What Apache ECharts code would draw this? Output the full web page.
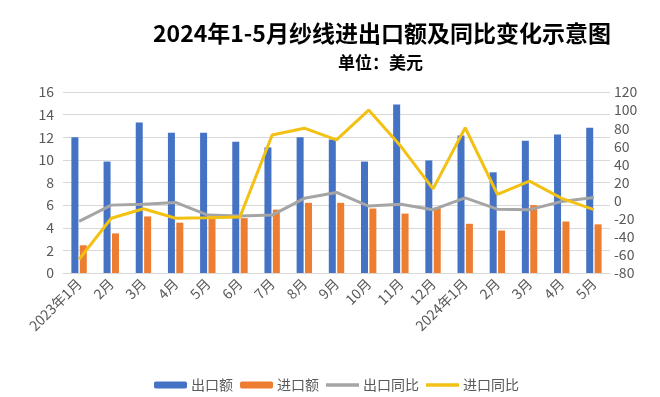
<!DOCTYPE html>
<html>
<head>
<meta charset="utf-8">
<script src="https://cdn.jsdelivr.net/npm/echarts@6/dist/echarts.min.js"></script>
<style>
  html, body { margin: 0; padding: 0; background: #fff; }
  #chart { width: 660px; height: 397px; }
</style>
</head>
<body>
<div id="chart"></div>
<script>
const months = ['2023年1月', '2月', '3月', '4月', '5月', '6月', '7月', '8月', '9月', '10月', '11月', '12月',
  '2024年1月', '2月', '3月', '4月', '5月']
const exportValue = [12.0, 9.85, 13.3, 12.4, 12.4, 11.6, 11.1, 12.0, 11.8, 9.85, 14.9, 9.95, 12.15, 8.9, 11.7, 12.25, 12.85]
const importValue = [2.45, 3.5, 5.0, 4.45, 4.85, 4.85, 5.6, 6.2, 6.2, 5.7, 5.25, 5.8, 4.35, 3.75, 6.0, 4.55, 4.3]
const exportYoy = [-23, -5, -4, -2, -16, -17, -16, 2.5, 9, -6, -4, -10, 3, -9.5, -10, -1, 3.5]
const importYoy = [-65, -19.5, -9, -19.5, -19, -18, 72.5, 80, 67, 100, 60, 13, 80.5, 7, 21.5, 2.5, -10]
const leftTicks = { min: 0, max: 16, interval: 2 }
const rightTicks = { min: -80, max: 120, interval: 20 }

const chart = echarts.init(document.getElementById('chart'))
const font = '"Noto Sans CJK SC", "Noto Sans", sans-serif'
const labelColor = '#595959'
// thin bar used as legend icon for the line series
const lineIcon = 'path://M0,0h33v3.5h-33z'

chart.setOption({
  backgroundColor: '#fff',
  textStyle: { fontFamily: font },
  title: [
    {
      text: '2024年1-5月纱线进出口额及同比变化示意图',
      left: 148,
      top: 17,
      textStyle: { fontSize: 23, fontWeight: 'bold', color: '#000', fontFamily: font }
    },
    {
      text: '单位：美元',
      left: 333,
      top: 49,
      textStyle: { fontSize: 17, fontWeight: 'bold', color: '#000', fontFamily: font }
    }
  ],
  legend: {
    top: 373,
    left: 149,
    itemWidth: 33,
    itemHeight: 7,
    itemGap: 7,
    textStyle: { fontSize: 14, color: labelColor, fontFamily: font, padding: [0, 0, 0, -1] },
    data: [
      { name: '出口额' },
      { name: '进口额' },
      { name: '出口同比', icon: lineIcon },
      { name: '进口同比', icon: lineIcon }
    ]
  },
  grid: { left: 63, right: 50, top: 92, bottom: 124, containLabel: false },
  xAxis: {
    type: 'category',
    data: months,
    axisLine: { lineStyle: { color: '#D9D9D9' } },
    axisTick: { show: false },
    axisLabel: { color: labelColor, fontSize: 14, rotate: 45, margin: 8, interval: 0, fontFamily: font }
  },
  yAxis: [
    {
      type: 'value',
      min: leftTicks.min,
      max: leftTicks.max,
      interval: leftTicks.interval,
      axisLine: { show: false },
      axisTick: { show: false },
      axisLabel: { color: labelColor, fontSize: 14, margin: 9, fontFamily: font },
      splitLine: { lineStyle: { color: '#D9D9D9' } }
    },
    {
      type: 'value',
      min: rightTicks.min,
      max: rightTicks.max,
      interval: rightTicks.interval,
      axisLine: { show: false },
      axisTick: { show: false },
      axisLabel: { color: labelColor, fontSize: 14, margin: 4, fontFamily: font },
      splitLine: { show: false }
    }
  ],
  series: [
    {
      name: '出口额',
      type: 'bar',
      data: exportValue,
      barWidth: 7,
      barGap: '20%',
      itemStyle: { color: '#4472C4' }
    },
    {
      name: '进口额',
      type: 'bar',
      data: importValue,
      barWidth: 7,
      itemStyle: { color: '#ED7D31' }
    },
    {
      name: '出口同比',
      type: 'line',
      yAxisIndex: 1,
      data: exportYoy,
      symbol: 'none',
      lineStyle: { width: 3, color: '#A5A5A5' },
      itemStyle: { color: '#A5A5A5' }
    },
    {
      name: '进口同比',
      type: 'line',
      yAxisIndex: 1,
      data: importYoy,
      symbol: 'none',
      lineStyle: { width: 3, color: '#F2C114' },
      itemStyle: { color: '#F2C114' }
    }
  ]
})
</script>
</body>
</html>
